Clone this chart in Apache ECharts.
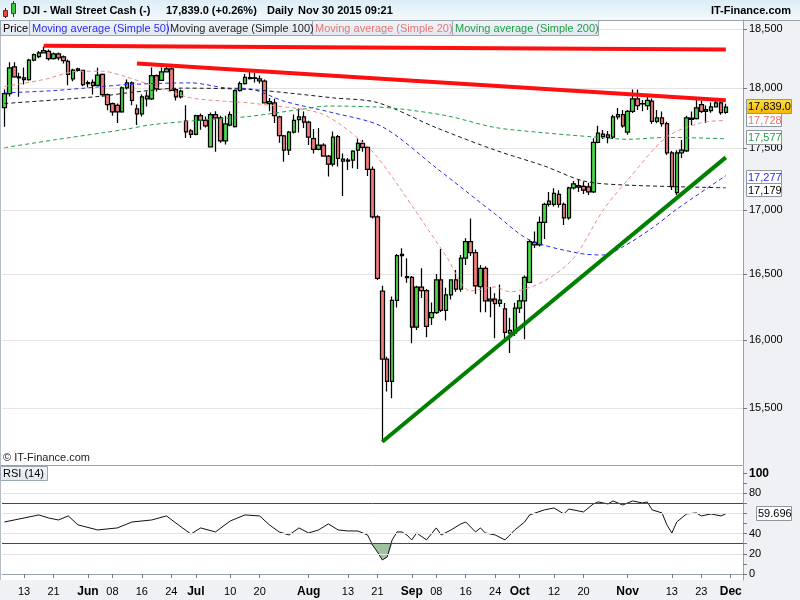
<!DOCTYPE html>
<html><head><meta charset="utf-8">
<script src="https://cdn.jsdelivr.net/npm/echarts@6/dist/echarts.min.js"></script>
<style>html,body{margin:0;padding:0;background:#fff}#c{width:800px;height:600px}</style>
</head><body><div id="c"></div><script>
// ---- categories (trading days, 2015) ----
const dates = [
'05-07','05-08','05-11','05-12','05-13','05-14','05-15','05-18','05-19','05-20','05-21','05-22','05-25','05-26','05-27','05-28','05-29',
'06-01','06-02','06-03','06-04','06-05','06-08','06-09','06-10','06-11','06-12','06-15','06-16','06-17','06-18','06-19','06-22','06-23','06-24','06-25','06-26','06-29','06-30',
'07-01','07-02','07-03','07-06','07-07','07-08','07-09','07-10','07-13','07-14','07-15','07-16','07-17','07-20','07-21','07-22','07-23','07-24','07-27','07-28','07-29','07-30','07-31',
'08-03','08-04','08-05','08-06','08-07','08-10','08-11','08-12','08-13','08-14','08-17','08-18','08-19','08-20','08-21','08-24','08-25','08-26','08-27','08-28','08-31',
'09-01','09-02','09-03','09-04','09-07','09-08','09-09','09-10','09-11','09-14','09-15','09-16','09-17','09-18','09-21','09-22','09-23','09-24','09-25','09-28','09-29','09-30',
'10-01','10-02','10-05','10-06','10-07','10-08','10-09','10-12','10-13','10-14','10-15','10-16','10-19','10-20','10-21','10-22','10-23','10-26','10-27','10-28','10-29','10-30',
'11-02','11-03','11-04','11-05','11-06','11-09','11-10','11-11','11-12','11-13','11-16','11-17','11-18','11-19','11-20','11-23','11-24','11-25','11-26','11-27','11-30'];
const padDates = ['12-01','12-02','12-03'];

// ---- price series (Wall Street Cash, daily) ----
const opens = [17835,17952,18178,18093,18085,18070,18234,18265,18297,18310,
18248,18288,18263,18225,18076,18161,18147,18036,18047,18022,
18113,17944,17869,17854,17799,18000,18042,17824,17782,17930,
17908,18104,18064,18136,18161,17986,17925,17723,17641,17613,
17768,17728,17511,17777,17749,17559,17690,17677,17977,18036,
18087,18080,18076,18056,17869,17874,17757,17601,17484,17631,
17735,17757,17715,17579,17490,17525,17436,17369,17595,17411,
17395,17403,17484,17539,17506,17328,16948,16369,15858,15693,
16298,16653,16480,16475,16096,16399,16373,16168,16206,16455,
16222,16341,16455,16384,16623,16752,16666,16404,16545,16295,
16308,16275,16235,16052,16052,16240,16295,16437,16746,16727,
16904,17046,17046,17127,17046,16940,17178,17196,17190,17187,
17146,17547,17615,17609,17590,17757,17776,17631,17804,17908,
17869,17852,17888,17720,17749,17701,17462,17140,17462,17478,
17747,17743,17860,17804,17810,17841,17874,17795];
const highs = [17986,18217,18217,18127,18172,18246,18291,18312,18350,18325,
18299,18299,18274,18240,18161,18170,18150,18062,18070,18170,
18121,17952,17877,17869,18011,18070,18053,17860,17944,17969,
18172,18113,18172,18180,18172,18000,17986,17854,17658,17776,
17785,17760,17794,17805,17768,17768,17802,17986,18053,18118,
18140,18130,18104,18070,17916,17908,17768,17609,17641,17777,
17827,17802,17726,17657,17665,17541,17445,17637,17609,17457,
17419,17484,17579,17567,17516,17350,16960,16411,15875,16328,
16655,16700,16623,16485,16410,16546,16385,16283,16500,16694,
16395,16460,16531,16648,16778,16935,16690,16570,16560,16400,
16353,16420,16278,16167,16280,16341,16490,16766,16831,16950,
17060,17146,17175,17160,17062,17188,17234,17242,17230,17220,
17582,17684,17650,17641,17776,17832,17815,17815,17986,17986,
17899,17930,17910,17815,17802,17718,17476,17484,17567,17768,
17802,17902,17893,17852,17877,17893,17893,17866];
const lows = [17676,17927,18085,17925,18028,18060,18225,18251,18291,18231,
18240,18234,18206,18022,18056,18138,18014,18003,17944,18014,
17925,17812,17768,17707,17791,17986,17854,17690,17760,17845,
17899,17969,18062,18130,17977,17894,17910,17583,17583,17605,
17651,17670,17505,17470,17545,17530,17680,17670,17969,18028,
18070,18045,18036,17869,17804,17707,17544,17390,17444,17620,
17628,17665,17525,17457,17482,17430,17269,17350,17350,17113,
17323,17336,17331,17470,17274,16935,16455,15255,15620,15571,
16245,16480,16434,15976,16075,16316,16020,16113,16195,16210,
16147,16305,16365,16365,16570,16640,16348,16209,16209,16171,
16013,16250,16013,15902,16030,16202,16005,16430,16703,16715,
16773,17030,17030,17022,16883,16925,17165,17146,17130,17121,
17138,17541,17575,17541,17575,17735,17668,17610,17790,17815,
17804,17815,17700,17705,17676,17444,17162,17121,17420,17468,
17690,17735,17790,17707,17793,17835,17776,17784];
const closes = [17952,18169,18093,18085,18070,18234,18282,18297,18316,18248,
18288,18254,18231,18113,18149,18147,18028,18045,18019,18107,
17944,17860,17799,17799,18000,18042,17896,17782,17925,17908,
18104,17992,18136,18161,17980,17925,17972,17633,17613,17768,
17728,17683,17777,17749,17559,17700,17777,17977,18036,18089,
18078,18085,18059,17874,17885,17768,17603,17484,17631,17729,
17757,17715,17590,17490,17525,17436,17369,17590,17417,17395,
17403,17476,17539,17506,17328,16948,16467,15858,15693,16298,
16643,16643,16472,16096,16399,16373,16101,16206,16455,16222,
16341,16455,16384,16623,16752,16666,16409,16545,16295,16308,
16273,16300,16056,16071,16240,16295,16475,16752,16727,16904,
17046,17073,17135,17046,16940,17178,17210,17184,17160,17146,
17547,17623,17595,17588,17757,17776,17684,17804,17908,17852,
17865,17896,17720,17749,17701,17462,17188,17462,17484,17749,
17738,17833,17804,17818,17841,17874,17793,17839];

// ---- moving averages, read at sample points (index into dates) ----
const ma20Idx = [0,8,15,20,25,32,38,45,51,64,69,74,76,80,90,95,100,103,110,116,122,127,135,142,147];
const ma20Val = [18011,18070,18140,18140,18090,17994,17916,17888,17869,17793,17678,17511,17427,17210,16641,16371,16401,16364,16447,16625,17000,17242,17592,17709,17728];
const ma50Idx = [0,10,20,25,38,45,50,57,67,77,88,100,107,117,122,126,132,137,147];
const ma50Val = [17958,17977,18011,18028,18042,18000,17992,17888,17791,17676,17339,16969,16766,16662,16648,16711,16859,17008,17277];
const ma100Idx = [0,10,20,25,36,50,59,67,76,88,100,110,118,126,147];
const ma100Val = [17869,17898,17931,17958,17998,17986,17952,17916,17877,17668,17484,17355,17234,17202,17179];
const ma200Idx = [0,10,20,25,30,40,50,60,66,75,80,90,100,110,120,127,135,147];
const ma200Val = [17504,17567,17626,17657,17693,17730,17762,17818,17848,17841,17827,17768,17670,17626,17592,17573,17588,17577];

// ---- RSI(14), read at sample points ----
const rsiIdx = [0,4,7,9,11,13,15,19,23,26,30,33,36,38,40,43,46,49,52,54,56,58,60,62,64,66,68,70,72,74,75,76,77,78,79,80,81,82,83,84,86,88,89,91,93,94,96,97,98,100,102,104,106,107,110,112,114,115,118,120,121,123,124,126,128,130,131,132,134,135,136,137,139,141,142,144,146,147];
const rsiVal = [51.6,55.6,58.6,55.6,53.6,57.6,48.7,43.7,45.7,51.6,53.6,57.6,46.7,39.7,45.7,41.7,52.6,58.6,57.6,48.7,41.7,38.7,45.7,40.7,43.7,49.7,43.7,42.7,42.7,38.7,28.8,21.8,13.9,16.9,33.8,41.7,41.7,38.7,33.8,40.7,33.8,45.7,38.7,43.7,49.7,51.6,41.7,45.7,40.7,38.7,33.8,43.7,51.6,58.6,63.6,65.5,59.6,64.5,61.6,69.5,71.5,69.5,72.5,68.5,72.5,70.5,71.5,63.6,60.6,48.7,40.7,51.6,59.6,60.6,57.6,59.6,57.6,59.696];
const rsiLowIdx = [74,75,76,77,78,79];
const rsiLowVal = [30,28.8,21.8,13.9,16.9,30];
const rsiLevels = [70,30];
const rsiGrid = [20,40,60,80];

// ---- tick labels ----
const priceTicks = [15500,16000,16500,17000,17500,18000,18500];
const rsiTicks = [0,20,40,80,100];
const xTickDates = ['05-13','05-21','06-01','06-08','06-16','06-24','07-01','07-10','07-20','08-03','08-13','08-21','09-01','09-08','09-16','09-24','10-01','10-12','10-20','11-02','11-13','11-23','12-01'];
const xTickLabels = ['13','21','Jun','08','16','24','Jul','10','20','Aug','13','21','Sep','08','16','24','Oct','12','20','Nov','13','23','Dec'];

// ---- drawn trend lines (date, price) ----
const trendLines = [
  {d0:'05-19', v0:18358, d1:'11-30', v1:18325, color:'#ff1010'},
  {d0:'06-15', v0:18206, d1:'11-30', v1:17896, color:'#ff1010'},
  {d0:'08-24', v0:15257, d1:'11-30', v1:17425, color:'#008000'}
];

const FONT = '"Liberation Sans", Arial, sans-serif';
const cats = dates.concat(padDates);
const LN = Math.log;
function sparse(idx, vals, tf) {
  const a = new Array(dates.length).fill(null);
  idx.forEach((k, j) => { a[k] = tf ? tf(vals[j]) : vals[j]; });
  return a;
}
function fmtNum(n) { return String(n).replace(/\B(?=(\d{3})+(?!\d))/g, ','); }
const labelMap = {};
xTickDates.forEach((d, i) => labelMap[d] = xTickLabels[i]);
const months = ['Jun','Jul','Aug','Sep','Oct','Nov','Dec'];
const isTick = (i, v) => labelMap[v] !== undefined;

const chart = echarts.init(document.getElementById('c'), null, {renderer: 'canvas'});

const maDefs = [
  {name:'Moving average (Simple 50)', idx:ma50Idx, val:ma50Val, color:'#2b2bf0'},
  {name:'Moving average (Simple 100)', idx:ma100Idx, val:ma100Val, color:'#1a1a1a'},
  {name:'Moving average (Simple 20)', idx:ma20Idx, val:ma20Val, color:'#ef8a8a'},
  {name:'Moving average (Simple 200)', idx:ma200Idx, val:ma200Val, color:'#1f9e48'}
];

const series = [{
  type:'candlestick', name:'Price', xAxisIndex:0, yAxisIndex:0, barWidth:4,
  data: opens.map((o, i) => [LN(o), LN(closes[i]), LN(lows[i]), LN(highs[i])]),
  itemStyle:{color:'#4cd84c', color0:'#f27c7c', borderColor:'#000', borderColor0:'#000', borderWidth:1.25}
}];
maDefs.forEach(m => series.push({
  type:'line', name:m.name, xAxisIndex:0, yAxisIndex:0,
  data: sparse(m.idx, m.val, LN), connectNulls:true, symbol:'none', smooth:0.3,
  lineStyle:{color:m.color, width:1, type:[4,3]}, z:3
}));
series.push({
  type:'line', name:'trend', xAxisIndex:0, yAxisIndex:0, data:[], z:6,
  markLine:{silent:true, symbol:['none','none'], label:{show:false}, animation:false,
    data: trendLines.map(t => [
      {coord:[dates.indexOf(t.d0), LN(t.v0)], lineStyle:{color:t.color, width:4, type:'solid'}},
      {coord:[dates.indexOf(t.d1), LN(t.v1)]}
    ])}
});
// RSI grid lines and 70/30 levels
series.push({
  type:'line', name:'rsiGrid', xAxisIndex:1, yAxisIndex:1, data:[], z:1,
  markLine:{silent:true, symbol:['none','none'], label:{show:false}, animation:false,
    lineStyle:{color:'#e3e3e3', width:1, type:'solid'},
    data: rsiGrid.map(v => ({yAxis:v}))}
});
series.push({
  type:'line', name:'rsiLevels', xAxisIndex:1, yAxisIndex:1, data:[], z:3,
  markLine:{silent:true, symbol:['none','none'], label:{show:false}, animation:false,
    lineStyle:{color:'#3535e0', width:1, type:'solid'},
    data: rsiLevels.map(v => ({yAxis:v}))}
});
series.push({
  type:'line', name:'RSI fill', xAxisIndex:1, yAxisIndex:1,
  data: sparse(rsiLowIdx, rsiLowVal), connectNulls:true, symbol:'none',
  lineStyle:{width:0}, areaStyle:{origin:30, color:'rgba(72,140,72,0.75)'}, z:2
});
series.push({
  type:'line', name:'RSI (14)', xAxisIndex:1, yAxisIndex:1,
  data: sparse(rsiIdx, rsiVal), connectNulls:true, symbol:'none',
  lineStyle:{color:'#111', width:1}, z:4
});

const legendBoxes = [
  {x:0, w:29, text:'Price', color:'#000'},
  {x:29, w:138, text:'Moving average (Simple 50)', color:'#2b2bf0'},
  {x:167, w:145, text:'Moving average (Simple 100)', color:'#222'},
  {x:312, w:140, text:'Moving average (Simple 20)', color:'#e87474'},
  {x:452, w:146, text:'Moving average (Simple 200)', color:'#1f9e48'}
];
const valueBoxes = [
  {y:99.5, h:14, w:45, text:fmtNum(closes[closes.length-1].toFixed(1)), color:'#000', fill:{type:'linear',x:0,y:0,x2:0,y2:1,colorStops:[{offset:0,color:'#ffe14a'},{offset:1,color:'#f2b600'}]}},
  {y:113.5, h:13, w:35, text:fmtNum(ma20Val[ma20Val.length-1]), color:'#e87474', fill:'#fff'},
  {y:130.5, h:14, w:35, text:fmtNum(ma200Val[ma200Val.length-1]), color:'#1f9e48', fill:'#fff'},
  {y:170.5, h:13, w:35, text:fmtNum(ma50Val[ma50Val.length-1]), color:'#2b2bf0', fill:'#fff'},
  {y:183.5, h:13, w:35, text:fmtNum(ma100Val[ma100Val.length-1]), color:'#000', fill:'#fff'}
];

const g = [];
// backgrounds
g.push({type:'rect', z:-10, silent:true, shape:{x:0,y:0,width:800,height:20},
  style:{fill:{type:'linear',x:0,y:0,x2:0,y2:1,colorStops:[{offset:0,color:'#dcedf7'},{offset:1,color:'#f3f9fc'}]}}});
g.push({type:'rect', z:-10, silent:true, shape:{x:743,y:20,width:57,height:580}, style:{fill:'#eff1f4'}});
g.push({type:'rect', z:-10, silent:true, shape:{x:0,y:580,width:800,height:20}, style:{fill:'#eff1f4'}});
// frame lines
g.push({type:'line', z:20, silent:true, shape:{x1:0,y1:20.5,x2:800,y2:20.5}, style:{stroke:'#9aa3ab', lineWidth:1}});
g.push({type:'line', z:20, silent:true, shape:{x1:0,y1:465.5,x2:743,y2:465.5}, style:{stroke:'#9aa3ab', lineWidth:1}});
g.push({type:'line', z:20, silent:true, shape:{x1:0.5,y1:20,x2:0.5,y2:580}, style:{stroke:'#b5bcc3', lineWidth:1}});
// icon
g.push({type:'line', z:20, silent:true, shape:{x1:5.5,y1:8,x2:5.5,y2:18}, style:{stroke:'#7a1010', lineWidth:1}});
g.push({type:'rect', z:21, silent:true, shape:{x:3.5,y:10.5,width:4,height:6}, style:{fill:'#e84a4a', stroke:'#8a1a1a', lineWidth:1}});
g.push({type:'line', z:20, silent:true, shape:{x1:13.5,y1:1,x2:13.5,y2:17}, style:{stroke:'#0a5a0a', lineWidth:1}});
g.push({type:'rect', z:21, silent:true, shape:{x:11.5,y:3.5,width:4,height:10}, style:{fill:'#3ec83e', stroke:'#0a6a0a', lineWidth:1}});
// header texts
const hf = 'bold 11px ' + FONT;
g.push({type:'text', z:21, silent:true, style:{text:'DJI - Wall Street Cash (-)', x:23, y:11, font:hf, fill:'#000', verticalAlign:'middle'}});
g.push({type:'text', z:21, silent:true, style:{text:'17,839.0 (+0.26%)', x:166, y:11, font:hf, fill:'#000', verticalAlign:'middle'}});
g.push({type:'text', z:21, silent:true, style:{text:'Daily', x:267, y:11, font:hf, fill:'#000', verticalAlign:'middle'}});
g.push({type:'text', z:21, silent:true, style:{text:'Nov 30 2015 09:21', x:298, y:11, font:hf, fill:'#000', verticalAlign:'middle'}});
g.push({type:'text', z:21, silent:true, style:{text:'IT-Finance.com', x:791, y:11, font:hf, fill:'#000', align:'right', verticalAlign:'middle'}});
// legend boxes
legendBoxes.forEach(b => {
  g.push({type:'rect', z:21, silent:true, shape:{x:b.x+0.5,y:20.5,width:b.w,height:15},
    style:{fill:{type:'linear',x:0,y:0,x2:0,y2:1,colorStops:[{offset:0,color:'#f1f5f9'},{offset:1,color:'#e1e8ef'}]}, stroke:'#9aa6b2', lineWidth:1}});
  g.push({type:'text', z:22, silent:true, style:{text:b.text, x:b.x+3, y:28.5, font:'11px '+FONT, fill:b.color, verticalAlign:'middle'}});
});
// value boxes on the price axis
valueBoxes.forEach(b => {
  g.push({type:'rect', z:21, silent:true, shape:{x:746.5,y:b.y,width:b.w,height:b.h}, style:{fill:b.fill, stroke:'#8e979f', lineWidth:1}});
  g.push({type:'text', z:22, silent:true, style:{text:b.text, x:748, y:b.y+b.h/2+0.5, font:'11px '+FONT, fill:b.color, verticalAlign:'middle'}});
});
// RSI value box
g.push({type:'rect', z:21, silent:true, shape:{x:756.5,y:506.5,width:35,height:14}, style:{fill:'#fff', stroke:'#8e979f', lineWidth:1}});
g.push({type:'text', z:22, silent:true, style:{text:String(rsiVal[rsiVal.length-1]), x:758, y:514, font:'11px '+FONT, fill:'#000', verticalAlign:'middle'}});
// RSI label
g.push({type:'rect', z:21, silent:true, shape:{x:0.5,y:466.5,width:47,height:14},
  style:{fill:{type:'linear',x:0,y:0,x2:0,y2:1,colorStops:[{offset:0,color:'#f1f5f9'},{offset:1,color:'#e1e8ef'}]}, stroke:'#9aa6b2', lineWidth:1}});
g.push({type:'text', z:22, silent:true, style:{text:'RSI (14)', x:3, y:474, font:'11px '+FONT, fill:'#000', verticalAlign:'middle'}});
// watermark
g.push({type:'text', z:22, silent:true, style:{text:'\u00a9 IT-Finance.com', x:3, y:458, font:'11px '+FONT, fill:'#222', verticalAlign:'middle'}});

const option = {
  animation:false,
  backgroundColor:'#ffffff',
  textStyle:{fontFamily:FONT},
  grid:[
    {left:2, top:20, width:741, height:445, show:false},
    {left:2, top:466, width:741, height:114, show:false}
  ],
  xAxis:[
    {type:'category', gridIndex:0, data:cats, boundaryGap:true,
      axisLine:{show:false}, axisTick:{show:false}, axisLabel:{show:false}, splitLine:{show:false}},
    {type:'category', gridIndex:1, data:cats, boundaryGap:true,
      axisLine:{show:true, lineStyle:{color:'#9aa3ab'}},
      axisTick:{show:true, interval:isTick, alignWithLabel:true, length:4, lineStyle:{color:'#777'}},
      axisLabel:{interval:isTick, color:'#000', fontSize:11, margin:6, fontFamily:FONT,
        formatter:(v) => { const l = labelMap[v]; return months.indexOf(l) >= 0 ? '{m|' + l + '}' : l; },
        rich:{m:{fontWeight:'bold', fontSize:12, color:'#000', fontFamily:FONT}}},
      splitLine:{show:false}}
  ],
  yAxis:[
    {type:'value', gridIndex:0, position:'right', min:LN(15092), max:LN(18580), scale:true,
      axisLine:{show:true, lineStyle:{color:'#9aa3ab'}},
      axisTick:{show:true, length:4, lineStyle:{color:'#777'}, customValues:priceTicks.map(LN)},
      axisLabel:{color:'#000', fontSize:11, margin:6, fontFamily:FONT, customValues:priceTicks.map(LN),
        formatter:(v) => fmtNum(Math.round(Math.exp(v)))},
      splitLine:{show:true, lineStyle:{color:'#e4e4e4', width:1}}},
    {type:'value', gridIndex:1, position:'right', min:-6, max:107.2,
      axisLine:{show:true, lineStyle:{color:'#9aa3ab'}},
      axisTick:{show:true, length:4, lineStyle:{color:'#777'}, customValues:[0,10,20,30,40,50,60,70,80,90,100]},
      axisLabel:{color:'#000', fontSize:11, margin:6, fontFamily:FONT, customValues:rsiTicks,
        formatter:(v) => v === 100 ? '{b|100}' : String(v),
        rich:{b:{fontWeight:'bold', fontSize:12, color:'#000', fontFamily:FONT}}},
      splitLine:{show:false}}
  ],
  series: series,
  graphic:{elements:g}
};
chart.setOption(option);
</script></body></html>
